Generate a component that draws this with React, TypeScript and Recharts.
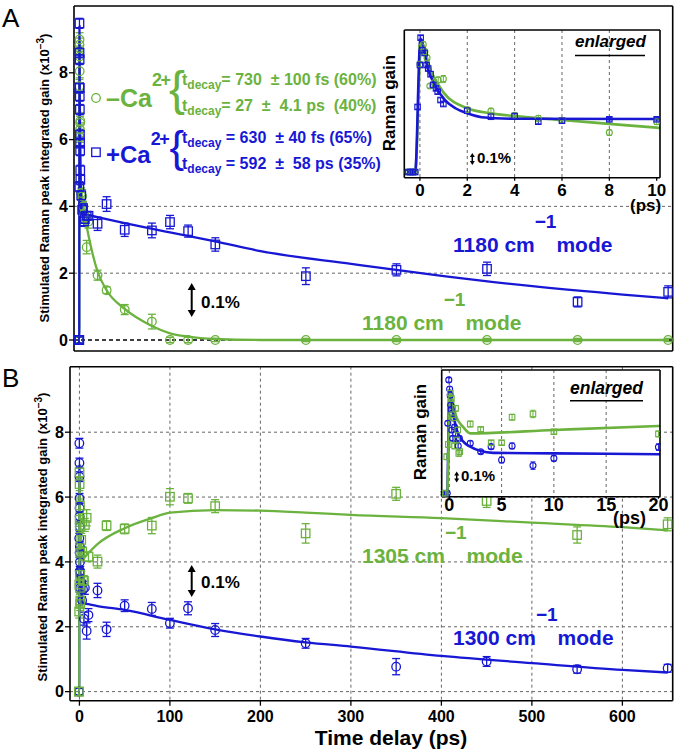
import React from "react";
import {
  ComposedChart,
  XAxis,
  YAxis,
  Scatter,
  Line,
  ErrorBar,
  CartesianGrid,
  ReferenceLine,
} from "recharts";

const BLUE = "#1717d4";
const GREEN = "#6bb23e";
const FONT = "'Liberation Sans', Arial, Helvetica, sans-serif";

type Pt = { t: number; v: number; e?: number };
const pts = (rows: number[][]): Pt[] => rows.map(([t, v, e]) => ({ t, v, e }));

// ---- ticks ----
const XT_MAIN = [0, 100, 200, 300, 400, 500, 600];
const YT_MAIN = [0, 2, 4, 6, 8];
const XT_INSET_A = [0, 2, 4, 6, 8, 10];
const XT_INSET_B = [0, 5, 10, 15, 20];
const YT_INSET_A = [0, 2, 4, 6, 8];
const YT_INSET_B = [0, 2, 4, 6];

// ---- panel A : 1180 cm-1, -Ca2+ (green circles) ----  [t ps, gain, err]
const aMinusCa = pts([
  [-0.5, 0, 0.08], [-0.4, 0, 0.08], [-0.3, 0, 0.08], [-0.2, 0, 0.08],
  [0, 7.6, 0.2], [0.07, 8.84, 0.2], [0.14, 9.0, 0.2], [0.21, 8.49, 0.2],
  [0.3, 8.05, 0.2], [0.42, 6.07, 0.15], [0.6, 6.3, 0.2], [0.77, 6.5, 0.2],
  [0.99, 6.56, 0.25], [2, 4.4, 0.15], [3, 4.3, 0.2], [4, 4.0, 0.15],
  [5, 3.79, 0.2], [6, 3.65, 0.15], [8, 2.78, 0.2], [10, 3.55, 0.2],
  [20, 1.94, 0.15], [30, 1.49, 0.1], [50, 0.91, 0.15], [80, 0.55, 0.22],
  [100, 0, 0.08], [120, 0, 0.08], [150, 0, 0.05], [250, 0, 0.05],
  [350, 0, 0.05], [450, 0, 0.05], [550, 0, 0.05], [650, 0, 0.05],
]);

// ---- panel A : 1180 cm-1, +Ca2+ (blue squares) ----
const aPlusCa = pts([
  [-0.5, 0, 0.1], [-0.4, 0, 0.1], [-0.3, 0, 0.1], [-0.2, 0, 0.1],
  [-0.1, 4.59, 0.15], [0, 7.55, 0.15], [0.03, 9.48, 0.15], [0.1, 8.6, 0.15],
  [0.2, 8.4, 0.15], [0.28, 7.55, 0.15], [0.35, 7.3, 0.15], [0.45, 6.9, 0.15],
  [0.56, 6.14, 0.15], [0.68, 5.9, 0.15], [0.75, 5.67, 0.15], [0.87, 5.08, 0.15],
  [0.99, 4.8, 0.15], [2, 4.33, 0.15], [3, 3.9, 0.15], [4, 3.95, 0.15],
  [5, 3.55, 0.15], [6, 3.62, 0.12], [8, 3.72, 0.12], [10, 3.72, 0.12],
  [20, 3.48, 0.2], [30, 4.07, 0.22], [50, 3.3, 0.2], [80, 3.28, 0.22],
  [100, 3.53, 0.2], [120, 3.26, 0.18], [150, 2.86, 0.2], [250, 1.91, 0.25],
  [350, 2.1, 0.18], [450, 2.13, 0.2], [550, 1.14, 0.15], [650, 1.44, 0.18],
]);

const aMinusCaFit = pts([
  [-0.5, 0], [-0.2, 0], [0.05, 9.0], [0.5, 7.0], [1, 5.6], [2, 4.5], [3, 4.14],
  [4, 3.95], [6, 3.67], [8, 3.4], [10, 3.13], [20, 2.05], [30, 1.49], [50, 0.93],
  [80, 0.42], [100, 0.2], [120, 0.1], [150, 0.03], [200, 0], [650, 0],
]);

const aPlusCaFit = pts([
  [-0.5, 0], [-0.2, 0], [0.02, 9.4], [0.35, 7.2], [0.63, 6.14], [1.06, 5.08],
  [1.5, 4.5], [2, 4.14], [2.6, 3.87], [4, 3.76], [10, 3.74], [20, 3.68],
  [50, 3.5], [100, 3.22], [150, 2.95], [200, 2.66], [300, 2.28], [400, 1.92],
  [500, 1.61], [600, 1.36], [650, 1.25],
]);

// ---- panel B : 1300 cm-1 (blue circles) ----
const b1300 = pts([
  [-0.6, 0, 0.1], [-0.4, 0, 0.1], [-0.2, 0, 0.1], [-0.15, 4.73, 0.15],
  [-0.05, 7.66, 0.15], [0.03, 7.05, 0.15], [0.08, 6.63, 0.15], [0.13, 5.96, 0.15],
  [0.18, 5.66, 0.15], [0.23, 4.28, 0.15], [0.28, 5.4, 0.15], [0.33, 3.71, 0.15],
  [0.4, 5.09, 0.15], [0.5, 4.47, 0.15], [0.6, 4.0, 0.15], [0.7, 3.65, 0.15],
  [0.85, 3.2, 0.15], [0.96, 3.71, 0.15], [2, 3.38, 0.15], [3, 2.81, 0.12],
  [4, 3.15, 0.15], [5, 2.25, 0.2], [6, 3.2, 0.2], [8, 1.87, 0.25],
  [10, 2.36, 0.2], [20, 3.12, 0.22], [30, 1.92, 0.22], [50, 2.65, 0.18],
  [80, 2.55, 0.2], [100, 2.11, 0.15], [120, 2.57, 0.2], [150, 1.9, 0.2],
  [250, 1.49, 0.15], [350, 0.77, 0.25], [450, 0.93, 0.15], [550, 0.69, 0.12],
  [650, 0.72, 0.12],
]);

// ---- panel B : 1305 cm-1 (green squares) ----
const b1305 = pts([
  [-0.6, 0, 0.1], [-0.4, 0, 0.1], [-0.25, 2.47, 0.2], [-0.1, 3.3, 0.2],
  [0.1, 6.76, 0.2], [0.2, 6.4, 0.2], [0.3, 5.3, 0.2], [0.4, 5.1, 0.2],
  [0.5, 3.2, 0.2], [0.6, 5.74, 0.2], [0.7, 3.6, 0.2], [0.8, 4.28, 0.2],
  [0.9, 2.7, 0.2], [1.0, 2.81, 0.2], [2, 4.68, 0.2], [3, 4.32, 0.15],
  [4, 3.42, 0.15], [5, 3.42, 0.15], [6, 5.14, 0.2], [8, 5.36, 0.25],
  [10, 4.16, 0.15], [20, 4.01, 0.2], [30, 5.12, 0.15], [50, 5.02, 0.15],
  [80, 5.12, 0.25], [100, 6.01, 0.25], [120, 5.96, 0.15], [150, 5.72, 0.2],
  [250, 4.88, 0.3], [350, 6.1, 0.2], [450, 5.88, 0.2], [550, 4.83, 0.25],
  [650, 5.16, 0.2],
]);

const b1300Fit = pts([
  [-0.6, 0], [-0.2, 0], [0, 6.98], [0.38, 5.4], [0.7, 4.28], [1.34, 3.49],
  [2, 3.15], [3, 2.85], [4.2, 2.73], [10, 2.7], [20, 2.64], [50, 2.52],
  [100, 2.21], [150, 1.92], [200, 1.7], [250, 1.52], [300, 1.39], [400, 1.1],
  [500, 0.88], [600, 0.67], [650, 0.59],
]);

const b1305Fit = pts([
  [-0.6, 0], [-0.2, 0], [0.05, 6.8], [0.7, 5.1], [1.3, 4.5], [2, 4.05],
  [10, 4.28], [20, 4.55], [50, 5.04], [80, 5.35], [100, 5.52], [150, 5.6],
  [200, 5.58], [250, 5.52], [300, 5.45], [400, 5.35], [500, 5.21],
  [600, 5.07], [650, 4.97],
]);

// ---- marker shapes ----
const openCircle = (color: string, r: number, sw = 1.3) => (p: any) => (
  <circle cx={p.cx} cy={p.cy} r={r} fill="none" stroke={color} strokeWidth={sw} />
);
const openSquare = (color: string, s: number, sw = 1.3) => (p: any) => (
  <rect x={p.cx - s / 2} y={p.cy - s / 2} width={s} height={s} fill="none" stroke={color} strokeWidth={sw} />
);

const AX = { stroke: "#000", strokeWidth: 1.6 };
const TL = { stroke: "#000", strokeWidth: 1.3 };
const tickFont = (size: number) => ({ fill: "#000", fontSize: size, fontWeight: 700, fontFamily: FONT });

// four axes forming the frame
function frame(
  xd: number[], yd: number[], xt: number[], yt: number[],
  o: { xLabels: boolean; xFont: number; tickSize: number; xMargin: number; bottomH: number; leftW: number; yLabels: boolean }
) {
  return [
    <XAxis key="xb" dataKey="t" type="number" domain={xd} ticks={xt} interval={0} allowDataOverflow
      tick={o.xLabels ? tickFont(o.xFont) : false} tickSize={o.tickSize} tickMargin={o.xMargin}
      height={o.bottomH} axisLine={AX} tickLine={TL} />,
    <XAxis key="xt" xAxisId="top" orientation="top" type="number" domain={xd} ticks={xt} interval={0}
      allowDataOverflow tick={false} tickSize={o.tickSize} height={4} axisLine={AX} tickLine={TL} />,
    <YAxis key="yl" dataKey="v" type="number" domain={yd} ticks={yt} interval={0} allowDataOverflow
      tick={o.yLabels ? tickFont(16) : false} tickSize={o.tickSize} tickMargin={1} width={o.leftW}
      axisLine={AX} tickLine={TL} />,
    <YAxis key="yr" yAxisId="right" orientation="right" type="number" domain={yd} ticks={yt} interval={0}
      allowDataOverflow tick={false} tickSize={o.tickSize} width={5} axisLine={AX} tickLine={TL} />,
  ];
}

function series(
  sqData: Pt[], sqColor: string, ciData: Pt[], ciColor: string,
  sqFit: Pt[], ciFit: Pt[], small: boolean
) {
  const s = small ? 5.5 : 8.5;
  const r = small ? 3 : 4.3;
  const w = small ? 2.5 : 4;
  const lw = small ? 2.6 : 2.3;
  return [
    <Scatter key="ci" data={ciData} dataKey="v" shape={openCircle(ciColor, r, small ? 1.1 : 1.3)} isAnimationActive={false}>
      <ErrorBar dataKey="e" direction="y" width={w} stroke={ciColor} strokeWidth={small ? 1 : 1.3} />
    </Scatter>,
    <Scatter key="sq" data={sqData} dataKey="v" shape={openSquare(sqColor, s, small ? 1.1 : 1.3)} isAnimationActive={false}>
      <ErrorBar dataKey="e" direction="y" width={w} stroke={sqColor} strokeWidth={small ? 1 : 1.3} />
    </Scatter>,
    <Line key="cf" data={ciFit} dataKey="v" type="monotone" stroke={ciColor} strokeWidth={lw}
      dot={false} activeDot={false} isAnimationActive={false} />,
    <Line key="sf" data={sqFit} dataKey="v" type="monotone" stroke={sqColor} strokeWidth={lw}
      dot={false} activeDot={false} isAnimationActive={false} />,
  ];
}

const inRange = (d: Pt[], max: number) => d.filter((p) => p.t <= max);

function Arrow({ x, y1, y2, w = 4, h = 7, sw = 2 }: { x: number; y1: number; y2: number; w?: number; h?: number; sw?: number }) {
  return (
    <g>
      <line x1={x} y1={y1 + h - 1} x2={x} y2={y2 - h + 1} stroke="#000" strokeWidth={sw} />
      <path d={`M${x - w},${y1 + h} L${x},${y1} L${x + w},${y1 + h} Z`} fill="#000" />
      <path d={`M${x - w},${y2 - h} L${x},${y2} L${x + w},${y2 - h} Z`} fill="#000" />
    </g>
  );
}

function Mode({ x, y, num, color }: { x: number; y: number; num: string; color: string }) {
  return (
    <text x={x} y={y} fill={color} fontSize={21}>
      {num} cm
      <tspan fontSize={19} dy={-24}>{"\u22121"}</tspan>
      <tspan dy={24}>mode</tspan>
    </text>
  );
}

function Decay({ x, y, color, rest }: { x: number; y: number; color: string; rest: string }) {
  return (
    <text x={x} y={y} fill={color} fontSize={16} style={{ whiteSpace: "pre" }}>
      t<tspan fontSize={12} dy={4}>decay</tspan>
      <tspan dy={-4}>{rest}</tspan>
    </text>
  );
}

export default function App() {
  const gridStyle = { stroke: "#666", strokeDasharray: "3 3", strokeWidth: 1 };
  return (
    <div style={{ position: "absolute", left: 0, top: 0, width: 680, height: 752, background: "#fff", overflow: "hidden", fontFamily: FONT }}>
      {/* Panel A */}
      <div style={{ position: "absolute", left: 0, top: 0 }}>
        <ComposedChart width={680} height={365} margin={{ top: 2, right: 2.3, bottom: 4, left: 44 }}>
          <CartesianGrid horizontalValues={[2, 4]} verticalValues={XT_MAIN} {...gridStyle} />
          <ReferenceLine y={0} stroke="#000" strokeWidth={1.3} strokeDasharray="4 3" />
          {frame([-6, 655], [-0.33, 10], XT_MAIN, YT_MAIN, { xLabels: false, xFont: 16, tickSize: 5, xMargin: 4, bottomH: 10, leftW: 30, yLabels: true })}
          {series(aPlusCa, BLUE, aMinusCa, GREEN, aPlusCaFit, aMinusCaFit, false)}
        </ComposedChart>
      </div>

      {/* Inset A */}
      <div style={{ position: "absolute", left: 404.3, top: 30, width: 255.7, height: 147.7, background: "#fff" }} />
      <div style={{ position: "absolute", left: 390, top: 20 }}>
        <ComposedChart width={285} height={200} margin={{ top: 6, right: 10, bottom: 17.3, left: 9.3 }}>
          <CartesianGrid horizontalValues={YT_INSET_A} verticalValues={[0, 2, 4, 6, 8]} {...gridStyle} />
          {frame([-0.66, 10.14], [-0.4, 10.02], XT_INSET_A, YT_INSET_A, { xLabels: true, xFont: 17, tickSize: 3, xMargin: 3, bottomH: 25, leftW: 5, yLabels: false })}
          {series(inRange(aPlusCa, 10.2), BLUE, inRange(aMinusCa, 10.2), GREEN, aPlusCaFit, aMinusCaFit, true)}
        </ComposedChart>
      </div>

      {/* Panel B */}
      <div style={{ position: "absolute", left: 0, top: 360 }}>
        <ComposedChart width={680} height={392} margin={{ top: 2.7, right: 2.3, bottom: 21.3, left: 40 }}>
          <CartesianGrid horizontalValues={YT_MAIN} verticalValues={XT_MAIN} {...gridStyle} />
          {frame([-10.4, 655.6], [-0.28, 10.02], XT_MAIN, YT_MAIN, { xLabels: true, xFont: 16, tickSize: 5, xMargin: 5, bottomH: 30, leftW: 30, yLabels: true })}
          {series(b1305, GREEN, b1300, BLUE, b1305Fit, b1300Fit, false)}
        </ComposedChart>
      </div>

      {/* Inset B */}
      <div style={{ position: "absolute", left: 441.7, top: 370, width: 218.3, height: 126.7, background: "#fff" }} />
      <div style={{ position: "absolute", left: 430, top: 362 }}>
        <ComposedChart width={245} height={170} margin={{ top: 4, right: 10, bottom: 10.3, left: 6.7 }}>
          <CartesianGrid horizontalValues={YT_INSET_B} verticalValues={[0, 5, 10, 15]} {...gridStyle} />
          {frame([-0.73, 20.15], [-0.23, 8.33], XT_INSET_B, YT_INSET_B, { xLabels: true, xFont: 18, tickSize: 2, xMargin: 0, bottomH: 25, leftW: 5, yLabels: false })}
          {series(inRange(b1305, 20.2), GREEN, inRange(b1300, 20.2), BLUE, b1305Fit, b1300Fit, true)}
        </ComposedChart>
      </div>

      {/* annotations */}
      <svg width={680} height={752} style={{ position: "absolute", left: 0, top: 0, pointerEvents: "none" }}
        fontFamily={FONT} fontWeight="bold">
        <rect x={88} y={63} width={312} height={122} fill="#fff" />
        <rect x={240} y={46} width={60} height={18} fill="#fff" />

        <text x={2} y={27} fontSize={26} fontWeight="normal" fill="#000">A</text>
        <text x={2} y={387} fontSize={26} fontWeight="normal" fill="#000">B</text>

        <text x={49} y={178} transform="rotate(-90 49 178)" textAnchor="middle" fontSize={13} fill="#000">
          Stimulated Raman peak integrated gain (x10<tspan fontSize={10} dy={-5}>{"\u22123"}</tspan>
          <tspan dy={5}>)</tspan>
        </text>
        <text x={47} y={537} transform="rotate(-90 47 537)" textAnchor="middle" fontSize={13} fill="#000">
          Stimulated Raman peak integrated gain (x10<tspan fontSize={10} dy={-5}>{"\u22123"}</tspan>
          <tspan dy={5}>)</tspan>
        </text>
        <text x={391} y={745} textAnchor="middle" fontSize={21} fill="#000">Time delay (ps)</text>

        {/* legend */}
        <circle cx={96} cy={98} r={4.3} fill="none" stroke={GREEN} strokeWidth={1.3} />
        <text x={106} y={107} fontSize={25} fill={GREEN}>
          {"\u2013Ca"}<tspan fontSize={18} dy={-21} letterSpacing={-1.5}>2+</tspan>
        </text>
        <text x={169} y={105} fontSize={48} fontWeight="normal" fill={GREEN}>{"{"}</text>
        <Decay x={182} y={85} color={GREEN} rest={"= 730  \u00b1 100 fs (60%)"} />
        <Decay x={182} y={111} color={GREEN} rest={"= 27  \u00b1  4.1 ps  (40%)"} />

        <rect x={91.7} y={148} width={8.5} height={8.5} fill="none" stroke={BLUE} strokeWidth={1.3} />
        <text x={106} y={163} fontSize={24} fill={BLUE}>
          +Ca<tspan fontSize={18} dy={-18} letterSpacing={-1.5}>2+</tspan>
        </text>
        <text x={169.5} y={162} fontSize={44} fontWeight="normal" fill={BLUE}>{"{"}</text>
        <Decay x={182} y={143.3} color={BLUE} rest={" = 630  \u00b1 40 fs (65%)"} />
        <Decay x={182} y={169} color={BLUE} rest={" = 592  \u00b1  58 ps (35%)"} />

        {/* mode labels */}
        <Mode x={453} y={252} num="1180" color={BLUE} />
        <Mode x={362} y={330} num="1180" color={GREEN} />
        <Mode x={362} y={563} num="1305" color={GREEN} />
        <Mode x={453} y={645} num="1300" color={BLUE} />

        {/* scale bars */}
        <Arrow x={191.7} y1={283} y2={317} />
        <text x={201} y={308} fontSize={17} fill="#000">0.1%</text>
        <Arrow x={191.7} y1={565} y2={597} />
        <text x={201} y={588} fontSize={17} fill="#000">0.1%</text>

        {/* inset A texts */}
        <text x={575} y={47} fontSize={17} fontStyle="italic" fill="#000">enlarged</text>
        <line x1={575} y1={55.5} x2={645} y2={55.5} stroke="#000" strokeWidth={1.6} />
        <text x={395} y={103} transform="rotate(-90 395 103)" textAnchor="middle" fontSize={17} fill="#000">Raman gain</text>
        <Arrow x={472.3} y1={153} y2={165} w={2.5} h={4} sw={1.5} />
        <text x={477} y={163} fontSize={15} fill="#000">0.1%</text>
        <text x={630} y={211} fontSize={17} fill="#000">(ps)</text>

        {/* inset B texts */}
        <text x={570} y={394} fontSize={17.5} fontStyle="italic" fill="#000">enlarged</text>
        <line x1={570} y1={400.7} x2={643} y2={400.7} stroke="#000" strokeWidth={1.6} />
        <text x={426} y={432} transform="rotate(-90 426 432)" textAnchor="middle" fontSize={17} fill="#000">Raman gain</text>
        <Arrow x={456.7} y1={471.5} y2={482.5} w={2.5} h={4} sw={1.5} />
        <text x={461} y={481} fontSize={15} fill="#000">0.1%</text>
        <text x={613} y={524} fontSize={18} fill="#000">(ps)</text>
      </svg>
    </div>
  );
}
